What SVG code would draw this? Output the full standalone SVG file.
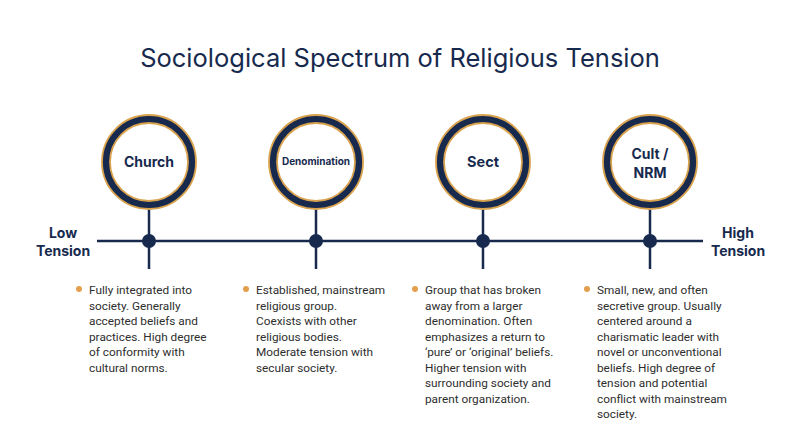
<svg xmlns="http://www.w3.org/2000/svg" width="800" height="447" viewBox="0 0 800 447">
<style>
.title{font-family:Inter,"Noto Sans",sans-serif;font-size:25.5px;fill:#172a4e;text-anchor:middle}
.lbl{font-family:Inter,"Liberation Sans",sans-serif;font-weight:bold;fill:#172a4e;text-anchor:middle}
.end{font-family:Inter,"Liberation Sans",sans-serif;font-weight:bold;font-size:14px;fill:#172a4e;text-anchor:middle}
.desc{font-family:Roboto,"Liberation Sans",sans-serif;font-size:11.8px;fill:#2e2e2e}
.ring{fill:#fff;stroke:#172a4e;stroke-width:8}
.gold{fill:none;stroke:#d9a24e;stroke-width:1.8}
.line{stroke:#172a4e;stroke-width:2.5;fill:none}
.dot{fill:#172a4e}
.bul{fill:#e3a04c}
</style>
<rect width="800" height="447" fill="#fff"/>
<text class="title" x="400" y="67">Sociological Spectrum of Religious Tension</text>
<g id="connectors">
<line class="line" x1="97" y1="241" x2="703" y2="241"/>
<line class="line" x1="149" y1="209" x2="149" y2="269"/>
<line class="line" x1="316" y1="209" x2="316" y2="269"/>
<line class="line" x1="483" y1="209" x2="483" y2="269"/>
<line class="line" x1="650" y1="209" x2="650" y2="269"/>
<circle class="dot" cx="149" cy="241" r="7"/>
<circle class="dot" cx="316" cy="241" r="7"/>
<circle class="dot" cx="483" cy="241" r="7"/>
<circle class="dot" cx="650" cy="241" r="7"/>
</g>
<g id="low"><text class="end" x="63" y="238">Low</text><text class="end" x="63" y="256">Tension</text></g>
<g id="high"><text class="end" x="738" y="238">High</text><text class="end" x="738" y="256">Tension</text></g>
<g id="church">
<circle class="ring" cx="149" cy="162" r="43"/><circle class="gold" cx="149" cy="162" r="47"/><circle class="gold" cx="149" cy="162" r="39"/>
<text class="lbl" x="149" y="167" font-size="14">Church</text>
</g>
<g id="denomination">
<circle class="ring" cx="316" cy="162" r="43"/><circle class="gold" cx="316" cy="162" r="47"/><circle class="gold" cx="316" cy="162" r="39"/>
<text class="lbl" x="316" y="165" font-size="10">Denomination</text>
</g>
<g id="sect">
<circle class="ring" cx="483" cy="162" r="43"/><circle class="gold" cx="483" cy="162" r="47"/><circle class="gold" cx="483" cy="162" r="39"/>
<text class="lbl" x="483" y="167" font-size="14.5">Sect</text>
</g>
<g id="cult">
<circle class="ring" cx="650" cy="162" r="43"/><circle class="gold" cx="650" cy="162" r="47"/><circle class="gold" cx="650" cy="162" r="39"/>
<text class="lbl" x="650" y="159" font-size="14">Cult /</text>
<text class="lbl" x="650" y="178" font-size="14">NRM</text>
</g>
<g id="desc1">
<circle class="bul" cx="79" cy="289" r="3"/>
<text class="desc" x="89" y="294">Fully integrated into</text>
<text class="desc" x="89" y="309.5">society. Generally</text>
<text class="desc" x="89" y="325">accepted beliefs and</text>
<text class="desc" x="89" y="340.5">practices. High degree</text>
<text class="desc" x="89" y="356">of conformity with</text>
<text class="desc" x="89" y="371.5">cultural norms.</text>
</g>
<g id="desc2">
<circle class="bul" cx="246" cy="289" r="3"/>
<text class="desc" x="256" y="294">Established, mainstream</text>
<text class="desc" x="256" y="309.5">religious group.</text>
<text class="desc" x="256" y="325">Coexists with other</text>
<text class="desc" x="256" y="340.5">religious bodies.</text>
<text class="desc" x="256" y="356">Moderate tension with</text>
<text class="desc" x="256" y="371.5">secular society.</text>
</g>
<g id="desc3">
<circle class="bul" cx="415" cy="289" r="3"/>
<text class="desc" x="425" y="294">Group that has broken</text>
<text class="desc" x="425" y="309.5">away from a larger</text>
<text class="desc" x="425" y="325">denomination. Often</text>
<text class="desc" x="425" y="340.5">emphasizes a return to</text>
<text class="desc" x="425" y="356">‘pure’ or ‘original’ beliefs.</text>
<text class="desc" x="425" y="371.5">Higher tension with</text>
<text class="desc" x="425" y="387">surrounding society and</text>
<text class="desc" x="425" y="402.5">parent organization.</text>
</g>
<g id="desc4">
<circle class="bul" cx="587" cy="289" r="3"/>
<text class="desc" x="597" y="294">Small, new, and often</text>
<text class="desc" x="597" y="309.5">secretive group. Usually</text>
<text class="desc" x="597" y="325">centered around a</text>
<text class="desc" x="597" y="340.5">charismatic leader with</text>
<text class="desc" x="597" y="356">novel or unconventional</text>
<text class="desc" x="597" y="371.5">beliefs. High degree of</text>
<text class="desc" x="597" y="387">tension and potential</text>
<text class="desc" x="597" y="402.5">conflict with mainstream</text>
<text class="desc" x="597" y="418">society.</text>
</g>
</svg>
